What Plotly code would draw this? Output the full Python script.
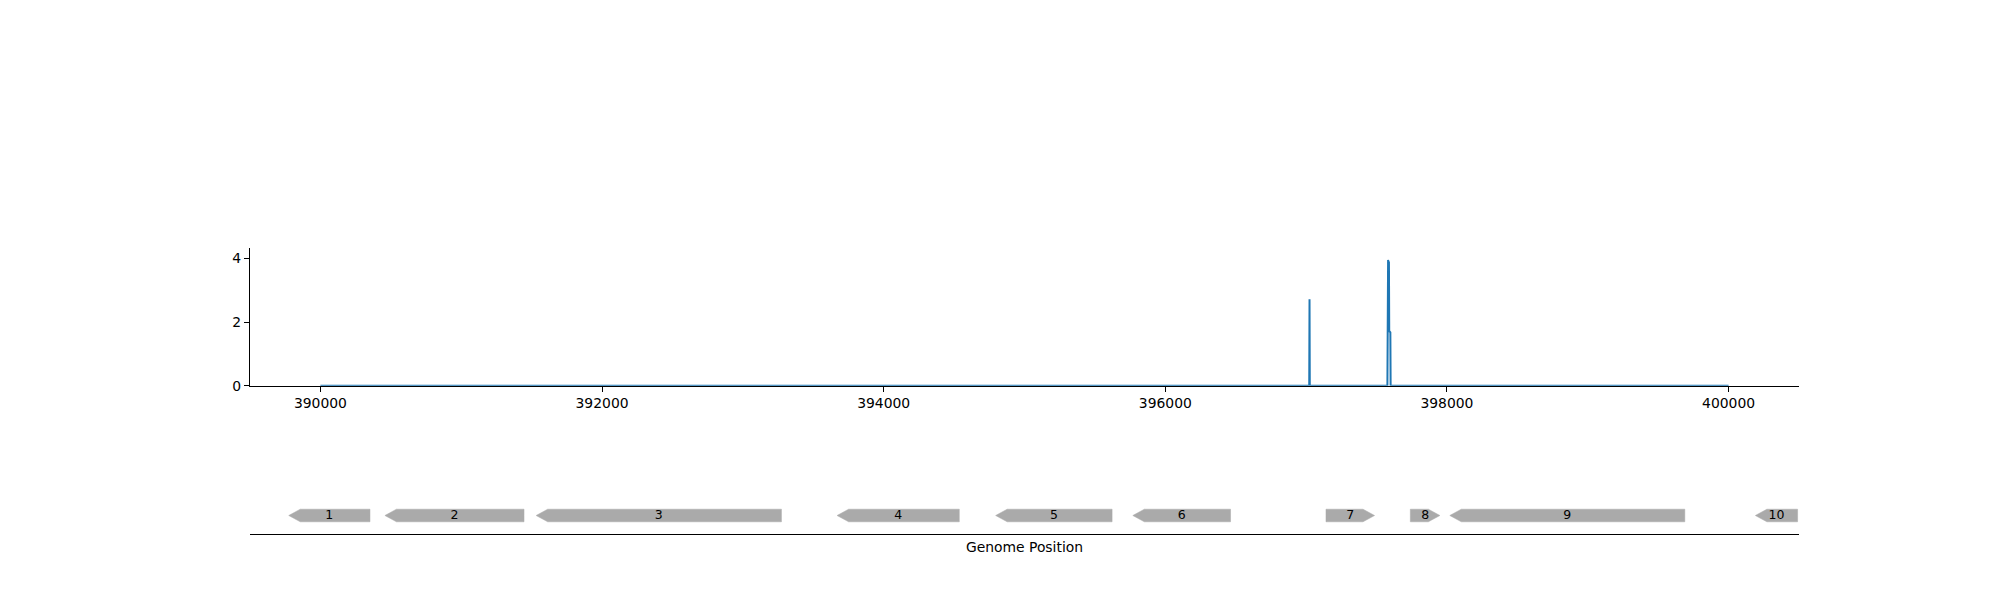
import plotly.graph_objects as go

# Coverage signal (genome position, value)
positions = [390000, 397022, 397024, 397026, 397577, 397579, 397582, 397585, 397588,
             397590, 397594, 397598, 397600, 400000]
values = [0, 0, 2.72, 0, 0, 3.92, 3.95, 3.9, 3.88, 1.72, 1.7, 1.68, 0, 0]

# Gene features
gene_labels = ["1", "2", "3", "4", "5", "6", "7", "8", "9", "10"]
gene_starts = [389775, 390458, 391532, 393669, 394795, 395769, 397141, 397740, 398020, 400190]
gene_ends = [390352, 391446, 393274, 394537, 395622, 396463, 397486, 397950, 399689, 400490]
gene_strands = [-1, -1, -1, -1, -1, -1, 1, 1, -1, -1]

x_ticks = [390000, 392000, 394000, 396000, 398000, 400000]
y_ticks = [0, 2, 4]

HEAD = 82          # arrowhead length in genome units
YC, HH = 0.1732, 0.059   # arrow centre / half height in track units

fig = go.Figure()

fig.add_trace(go.Scatter(x=positions, y=values, mode="lines",
                         line=dict(color="#1f77b4", width=2),
                         xaxis="x", yaxis="y", hoverinfo="skip"))

px, py = [], []
for s, e, st in zip(gene_starts, gene_ends, gene_strands):
    head = min(HEAD, e - s)
    if st < 0:
        xs = [s, s + head, e, e, s + head, s]
        ys = [YC, YC + HH, YC + HH, YC - HH, YC - HH, YC]
    else:
        xs = [s, e - head, e, e - head, s, s]
        ys = [YC + HH, YC + HH, YC, YC - HH, YC - HH, YC + HH]
    px += xs + [None]
    py += ys + [None]

fig.add_trace(go.Scatter(x=px, y=py, mode="lines", fill="toself",
                         fillcolor="#aaaaaa", line=dict(color="#aaaaaa", width=0.5),
                         xaxis="x2", yaxis="y2", hoverinfo="skip"))

mids = [(s + e) / 2 for s, e in zip(gene_starts, gene_ends)]
fig.add_trace(go.Scatter(x=mids, y=[YC] * len(mids), mode="text", text=gene_labels,
                         textfont=dict(family="DejaVu Sans", size=12.5, color="black"),
                         textposition="middle center", cliponaxis=False,
                         xaxis="x2", yaxis="y2", hoverinfo="skip"))

xr = [389500, 400500]
fig.update_layout(
    width=2000, height=600,
    margin=dict(l=250, r=201, t=0, b=66),
    paper_bgcolor="white", plot_bgcolor="white",
    showlegend=False,
    font=dict(family="DejaVu Sans", size=13.9, color="black"),
    xaxis=dict(domain=[0, 1], range=xr, anchor="y", showline=True, linecolor="black",
               linewidth=1.1, ticks="outside", ticklen=5, tickwidth=1.1, tickcolor="black",
               tickvals=x_ticks, ticktext=[str(v) for v in x_ticks],
               showgrid=False, zeroline=False),
    yaxis=dict(domain=[0.2777, 0.5356], range=[0, 4.33], anchor="x", showline=True,
               linecolor="black", linewidth=1.1, ticks="outside", ticklen=5, tickwidth=1.1,
               tickcolor="black", tickvals=y_ticks, ticktext=[str(v) for v in y_ticks],
               showgrid=False, zeroline=False),
    xaxis2=dict(domain=[0, 1], range=xr, anchor="y2", showline=True, linecolor="black",
                linewidth=1.1, ticks="", showticklabels=False, showgrid=False, zeroline=False,
                title=dict(text="Genome Position", standoff=8,
                           font=dict(family="DejaVu Sans", size=13.9, color="black"))),
    yaxis2=dict(domain=[0, 0.2], range=[0, 1], anchor="x2", visible=False,
                showgrid=False, zeroline=False),
)

fig.write_html("out.html", config={"displayModeBar": False},
               post_script="document.body.style.margin='0';document.body.style.padding='0';")
